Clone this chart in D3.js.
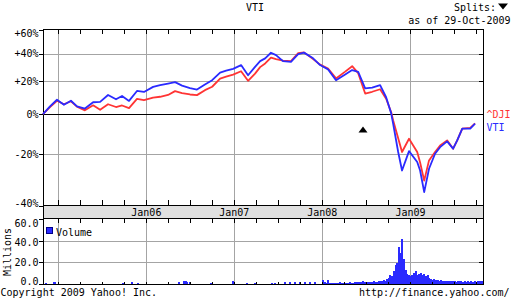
<!DOCTYPE html>
<html><head><meta charset="utf-8">
<script src="https://cdn.jsdelivr.net/npm/d3@7"></script>
<style>
body{margin:0;background:#fff}
svg{display:block}
text{font-family:"DejaVu Sans Mono",monospace;font-size:10px;fill:#000}
</style>
</head><body>
<svg id="c" width="512" height="299"></svg>
<script>
// ---------- data ----------
const symbol = "VTI";
const compareSymbol = "^DJI";
const asOf = "as of 29-Oct-2009";
const dateStart = "2004-10-29", dateEnd = "2009-10-29";

const dates = ["2004-10-29","2004-11-27","2004-12-26","2005-01-24","2005-02-22","2005-03-19","2005-04-21","2005-05-25","2005-06-23","2005-07-26",
"2005-08-28","2005-09-22","2005-10-21","2005-11-23","2005-12-22","2006-01-29","2006-02-27","2006-04-01","2006-04-30","2006-05-29",
"2006-07-01","2006-07-30","2006-09-01","2006-10-01","2006-11-03","2006-11-28","2006-12-27","2007-01-29","2007-02-27","2007-03-28",
"2007-04-18","2007-05-09","2007-06-02","2007-06-23","2007-07-22","2007-08-24","2007-09-23","2007-10-17","2007-11-24","2007-12-23",
"2008-01-25","2008-02-27","2008-04-05","2008-05-04","2008-05-29","2008-06-27","2008-07-26","2008-08-28","2008-09-22","2008-10-13",
"2008-10-21","2008-11-11","2008-11-27","2008-12-26","2009-01-29","2009-02-10","2009-02-27","2009-03-19","2009-04-13","2009-05-04",
"2009-06-02","2009-06-27","2009-07-14","2009-08-04","2009-09-06","2009-09-26"];

const vtiPct = [0,4.4,8.3,5.3,7.7,4.4,3.1,6.8,7.0,11.2,
8.6,10.6,7.6,13.7,13.1,16.3,17.4,18.5,19.4,17.1,
15.5,14.6,17.9,20.7,25.9,27.3,28.6,31.3,24.1,30.0,
34.2,36.3,40.6,38.8,34.2,33.7,39.6,40.7,36.3,31.3,
28.2,20.7,24.6,27.7,26.5,15.3,15.9,17.4,9.8,0.4,
-5.2,-19.0,-26.9,-18.6,-23.4,-26.9,-35.2,-26.2,-19.8,-16.8,
-14.1,-17.5,-13.6,-7.8,-7.8,-5.2];

const djiPct = [0,3.9,7.7,5.6,7.4,4.2,2.1,5.0,2.4,5.6,
4.0,4.9,3.4,8.8,8.0,9.6,10.1,11.2,13.6,12.4,
11.5,11.1,14.2,16.4,21.8,23.1,24.5,26.9,20.3,25.2,
29.8,32.5,36.9,35.7,34.5,34.2,40.3,40.9,35.7,31.6,
28.7,21.9,26.6,30.5,25.5,12.1,13.2,14.8,8.9,1.0,
-3.4,-12.6,-19.0,-12.8,-19.0,-23.6,-30.9,-22.7,-19.0,-16.0,
-13.6,-17.5,-13.6,-7.8,-7.4,-5.0];

// sparse volume bars (millions) before 2008
const volSparseDates = ["2004-11-10","2004-12-14","2004-12-18","2005-09-25","2005-11-01","2005-11-27","2006-05-18","2006-06-06","2006-06-13","2006-06-19",
"2006-07-01","2006-09-25","2006-12-28","2007-02-24","2007-03-28","2007-06-06","2007-06-19","2007-07-30","2007-08-20","2007-09-09",
"2007-09-30","2007-10-21","2007-11-11","2007-12-02"];
const volSparse = [0.8,1.5,2,1,2.2,0.8,1.5,2.5,3,2,
1.5,0.8,3,1,1,1,1,1.5,2,1.5,
2,1.5,1.5,2];
// weekly volume (millions) from 2008-01-04
const volWeeklyStart = "2008-01-04";
const volWeekly = [3.5,2,1,3.5,
1,1,0.5,1,1,1,1.5,1,1,1,0.5,1,1.5,1,1,
1.5,2,2,1.5,2,2.5,2,2,1.5,2,2,2.5,2,2,3,2.5,
3,4,3,5,6,8,7,12,18,19,34,29,
42,23,13,9,8,7,8,10,12,8,9,10,8,9,7,8,6,5,4,4.5,3.5,4,3,3.5,3,2.5,
3,2.5,3,2.5,2.5,3,2,2.5,3,2.5,2,2.5,2,2.5,2,2.5,2,2.5,2,2.5,3,3];

const splitDates = ["2008-06-18"];

const pctTicks = [60,40,20,0,-20,-40];
const pctLabels = ["+60%","+40%","+20%","0%","-20%","-40%"];
const pctLabelShift = [4,0,0,0,0,-2.5];
const volTicks = [60,40,20,0];
const volLabels = ["60.0","40.0","20.0","0.0"];
const volLabelShift = [4,1.5,0,-3];
const yearTicks = ["2005-01-01","2006-01-01","2007-01-01","2008-01-01","2009-01-01"];
const yearLabels = ["","Jan06","Jan07","Jan08","Jan09"];

// ---------- colours ----------
const BLUE = "#2a2aff", RED = "#ff3434", GRID = "#a4a4a4";

// ---------- scales ----------
const P = d3.utcParse("%Y-%m-%d");
const L = 43, R = 483, TOP = 29.5, BANDT = 205, BANDB = 218, VTOP = 219, VBOT = 284;
const x = d3.scaleUtc().domain([P(dateStart), P(dateEnd)]).range([L, R]);
const y = d3.scaleLog().domain([0.6, 1.6]).range([206, TOP]);
const yv = d3.scaleLinear().domain([0, 60]).range([VBOT, VTOP]);
const yp = p => y(1 + p / 100);

const svg = d3.select("#c");
svg.append("rect").attr("width",512).attr("height",299).attr("fill","#fff");

const quarters = d3.utcMonth.every(3).range(P("2005-01-01"), P(dateEnd));
const years = yearTicks.map(P);

// ---------- main plot grid ----------
const gridG = svg.append("g").attr("shape-rendering","crispEdges");
gridG.append("g").attr("transform",`translate(${L},0)`)
  .call(d3.axisLeft(y).tickValues(pctTicks.filter(v=>v!==60 && v!==0 && v!==-40).map(v=>1+v/100)).tickSize(-(R-L)).tickFormat(""))
  .call(g=>{g.select(".domain").remove(); g.selectAll("line").attr("stroke",GRID);});
gridG.append("g").attr("transform",`translate(0,${BANDT})`)
  .call(d3.axisBottom(x).tickValues(years).tickSize(-(BANDT-TOP)).tickFormat(""))
  .call(g=>{g.select(".domain").remove(); g.selectAll("line").attr("stroke",GRID);});
gridG.append("g").attr("transform",`translate(${L},0)`)
  .call(d3.axisLeft(yv).tickValues([20,40]).tickSize(-(R-L)).tickFormat(""))
  .call(g=>{g.select(".domain").remove(); g.selectAll("line").attr("stroke",GRID);});
gridG.append("g").attr("transform",`translate(0,${VBOT})`)
  .call(d3.axisBottom(x).tickValues(years).tickSize(-(VBOT-BANDB)).tickFormat(""))
  .call(g=>{g.select(".domain").remove(); g.selectAll("line").attr("stroke",GRID);});

// band
svg.append("rect").attr("x",L).attr("y",BANDT).attr("width",R-L).attr("height",BANDB-BANDT)
  .attr("fill","#e0e0e0").attr("shape-rendering","crispEdges");

// ---------- volume bars ----------
const volData = volSparseDates.map((d,i)=>({d:P(d),v:volSparse[i]}))
  .concat(volWeekly.map((v,i)=>({d:d3.utcWeek.offset(P(volWeeklyStart),i), v})));
svg.append("g").attr("shape-rendering","crispEdges").selectAll("rect").data(volData).join("rect")
  .attr("x",d=>Math.round(x(d.d))-1).attr("width",2)
  .attr("y",d=>yv(d.v)).attr("height",d=>VBOT-yv(d.v))
  .attr("fill",BLUE);

// ---------- frames & axes ----------
const frame = svg.append("g").attr("stroke","#000").attr("shape-rendering","crispEdges").attr("fill","none");
frame.append("line").attr("x1",L).attr("x2",R+0.5).attr("y1",TOP).attr("y2",TOP);
frame.append("line").attr("x1",L).attr("x2",R+0.5).attr("y1",BANDT+0.5).attr("y2",BANDT+0.5);
frame.append("line").attr("x1",L).attr("x2",R+0.5).attr("y1",BANDB+0.5).attr("y2",BANDB+0.5);
frame.append("line").attr("x1",L).attr("x2",R+0.5).attr("y1",VBOT+0.5).attr("y2",VBOT+0.5);
frame.append("line").attr("x1",L+0.5).attr("x2",L+0.5).attr("y1",TOP).attr("y2",VBOT+1);
frame.append("line").attr("x1",R+0.5).attr("x2",R+0.5).attr("y1",TOP).attr("y2",VBOT+1);
frame.append("line").attr("x1",L).attr("x2",R).attr("y1",Math.round(yp(0))+0.5).attr("y2",Math.round(yp(0))+0.5);

function styleAxis(g){ g.select(".domain").remove(); g.selectAll("line").attr("stroke","#000"); g.selectAll("text").attr("font-family","DejaVu Sans Mono").attr("font-size",10).attr("fill","#000"); }

svg.append("g").attr("transform",`translate(${L},0)`).attr("shape-rendering","crispEdges")
  .call(d3.axisLeft(y).tickValues(pctTicks.map(v=>1+v/100)).tickSize(4).tickPadding(0.5)
    .tickFormat((d,i)=>pctLabels[i]))
  .call(styleAxis)
  .call(g=>g.selectAll("text").attr("dy",(d,i)=>(3.3+pctLabelShift[i])+"px"));
svg.append("g").attr("transform",`translate(${R},0)`).attr("shape-rendering","crispEdges")
  .call(d3.axisRight(y).tickValues([40,20,-20].map(v=>1+v/100)).tickSize(-4).tickFormat(""))
  .call(styleAxis);
svg.append("g").attr("transform",`translate(0,${TOP})`).attr("shape-rendering","crispEdges")
  .call(d3.axisBottom(x).tickValues(quarters).tickSize(4).tickFormat("")).call(styleAxis);
svg.append("g").attr("transform",`translate(0,${BANDT})`).attr("shape-rendering","crispEdges")
  .call(d3.axisTop(x).tickValues(quarters).tickSize(5).tickFormat("")).call(styleAxis);
svg.append("g").attr("transform",`translate(0,${BANDB})`).attr("shape-rendering","crispEdges")
  .call(d3.axisBottom(x).tickValues(quarters).tickSize(5).tickFormat("")).call(styleAxis);
svg.append("g").attr("transform",`translate(0,${VBOT})`).attr("shape-rendering","crispEdges")
  .call(d3.axisTop(x).tickValues(quarters).tickSize(2).tickFormat("")).call(styleAxis);
svg.append("g").selectAll("text").data(years).join("text")
  .attr("x",d=>x(d)).attr("y",BANDB-2.5).attr("text-anchor","middle")
  .text((d,i)=>yearLabels[i]);
svg.append("g").attr("transform",`translate(${L},0)`).attr("shape-rendering","crispEdges")
  .call(d3.axisLeft(yv).tickValues(volTicks).tickSize(4).tickPadding(0.5).tickFormat((d,i)=>volLabels[i]))
  .call(styleAxis)
  .call(g=>g.selectAll("text").attr("dy",(d,i)=>(3.3+volLabelShift[i])+"px"));
svg.append("g").attr("transform",`translate(${R},0)`).attr("shape-rendering","crispEdges")
  .call(d3.axisRight(yv).tickValues([40,20]).tickSize(-4).tickFormat(""))
  .call(styleAxis);
svg.append("text").attr("transform","translate(10.5,252) rotate(-90)").attr("text-anchor","middle").text("Millions");

svg.append("rect").attr("x",46.5).attr("y",227.5).attr("width",6).attr("height",6)
  .attr("fill",BLUE).attr("stroke","#000088").attr("shape-rendering","crispEdges");
svg.append("text").attr("x",56).attr("y",235.5).text("Volume");

// ---------- lines ----------
const pts = dates.map((d,i)=>({d:P(d), vti:vtiPct[i], dji:djiPct[i]}));
const lineDji = d3.line().x(d=>x(d.d)).y(d=>yp(d.dji));
const lineVti = d3.line().x(d=>x(d.d)).y(d=>yp(d.vti));
svg.append("path").datum(pts).attr("d",lineDji).attr("fill","none").attr("stroke",RED).attr("stroke-width",1.8).attr("stroke-linejoin","round");
svg.append("path").datum(pts).attr("d",lineVti).attr("fill","none").attr("stroke",BLUE).attr("stroke-width",1.8).attr("stroke-linejoin","round");

splitDates.forEach(sd=>{
  const dd = P(sd);
  const near = pts[d3.bisector(p=>p.d).left(dates.map(P), dd)];
  const cx = x(dd), cy = yp(near.vti) + 15.5;
  svg.append("path").attr("d",`M${cx-4.5},${cy+3}L${cx+4.5},${cy+3}L${cx},${cy-3}Z`).attr("fill","#000");
});

svg.append("text").attr("x",486.5).attr("y",118.3).style("fill",RED).text(compareSymbol);
svg.append("text").attr("x",486.5).attr("y",130.7).style("fill",BLUE).text(symbol);

// ---------- titles ----------
svg.append("text").attr("x",255).attr("y",10.6).attr("text-anchor","middle").text(symbol);
svg.append("text").attr("x",454).attr("y",10.6).text("Splits:");
svg.append("path").attr("d","M498,3.5L508,3.5L503,9.5Z").attr("fill","#000");
svg.append("text").attr("x",510.5).attr("y",24.3).attr("text-anchor","end").text(asOf);
svg.append("text").attr("x",0.5).attr("y",295.5).text("Copyright 2009 Yahoo! Inc.");
svg.append("text").attr("x",509.5).attr("y",295.5).attr("text-anchor","end").text("http://finance.yahoo.com/");
</script>
</body></html>
